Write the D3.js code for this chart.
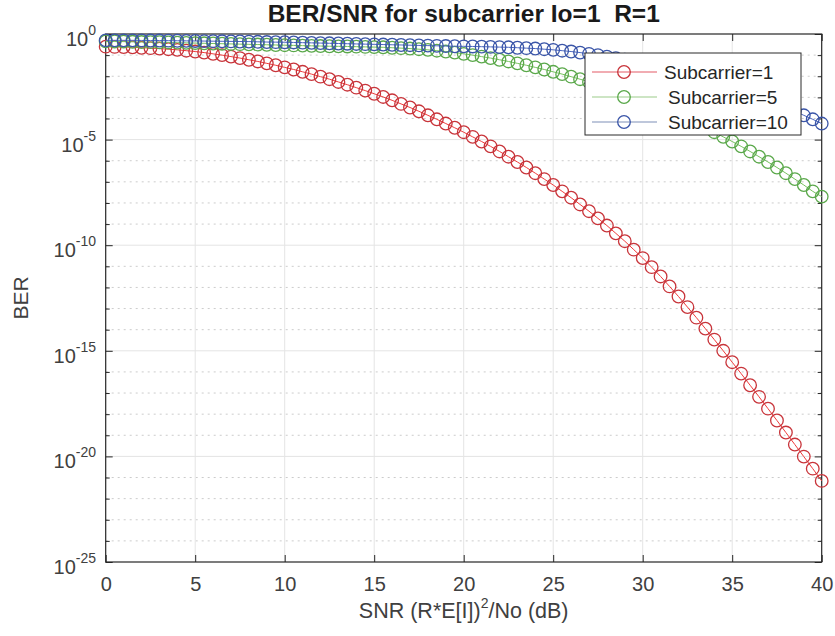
<!DOCTYPE html>
<html><head><meta charset="utf-8">
<script src="https://cdn.jsdelivr.net/npm/d3@7"></script>
<style>
body{margin:0;background:#fff}
svg{display:block}
text{font-family:"Liberation Sans",Arial,Helvetica,sans-serif}
</style>
</head><body>
<svg id="chart" width="835" height="636"></svg>
<script>
// ---------- data ----------
const snrDb = [0,0.5,1,1.5,2,2.5,3,3.5,4,4.5,5,5.5,6,6.5,7,7.5,8,8.5,9,9.5,
  10,10.5,11,11.5,12,12.5,13,13.5,14,14.5,15,15.5,16,16.5,17,17.5,18,18.5,19,19.5,
  20,20.5,21,21.5,22,22.5,23,23.5,24,24.5,25,25.5,26,26.5,27,27.5,28,28.5,29,29.5,
  30,30.5,31,31.5,32,32.5,33,33.5,34,34.5,35,35.5,36,36.5,37,37.5,38,38.5,39,39.5,40];

// log10(BER) per series
const berExpSub1 = [-0.60,-0.61,-0.62,-0.63,-0.65,-0.67,-0.69,-0.72,-0.75,-0.79,
  -0.83,-0.88,-0.94,-1.00,-1.07,-1.14,-1.22,-1.30,-1.39,-1.48,
  -1.58,-1.68,-1.79,-1.90,-2.02,-2.14,-2.27,-2.40,-2.54,-2.68,
  -2.83,-2.98,-3.14,-3.31,-3.48,-3.66,-3.85,-4.04,-4.24,-4.44,
  -4.65,-4.87,-5.09,-5.32,-5.56,-5.81,-6.06,-6.32,-6.59,-6.87,
  -7.15,-7.45,-7.75,-8.07,-8.39,-8.73,-9.07,-9.44,-9.81,-10.21,
  -10.61,-11.04,-11.48,-11.95,-12.43,-12.93,-13.43,-13.95,-14.47,-15.00,
  -15.54,-16.08,-16.63,-17.18,-17.74,-18.30,-18.87,-19.44,-20.01,-20.58,
  -21.16];
const berExpSub5 = [-0.35,-0.355,-0.36,-0.37,-0.38,-0.385,-0.39,-0.40,-0.41,-0.42,
  -0.43,-0.44,-0.45,-0.46,-0.47,-0.48,-0.49,-0.50,-0.51,-0.52,
  -0.53,-0.54,-0.55,-0.56,-0.57,-0.58,-0.585,-0.59,-0.60,-0.61,
  -0.62,-0.63,-0.65,-0.67,-0.69,-0.72,-0.75,-0.79,-0.83,-0.88,
  -0.94,-1.00,-1.07,-1.14,-1.22,-1.30,-1.39,-1.48,-1.58,-1.68,
  -1.79,-1.90,-2.02,-2.14,-2.27,-2.40,-2.54,-2.68,-2.83,-2.98,
  -3.14,-3.31,-3.48,-3.66,-3.85,-4.04,-4.24,-4.44,-4.65,-4.87,
  -5.09,-5.32,-5.56,-5.81,-6.06,-6.32,-6.59,-6.87,-7.15,-7.45,
  -7.70];
const berExpSub10 = [-0.30,-0.30,-0.30,-0.30,-0.305,-0.31,-0.31,-0.315,-0.32,-0.325,
  -0.33,-0.335,-0.34,-0.345,-0.35,-0.355,-0.36,-0.37,-0.38,-0.385,
  -0.39,-0.40,-0.41,-0.42,-0.43,-0.44,-0.45,-0.46,-0.47,-0.48,
  -0.49,-0.50,-0.51,-0.52,-0.53,-0.54,-0.55,-0.56,-0.57,-0.58,
  -0.585,-0.59,-0.60,-0.61,-0.62,-0.63,-0.65,-0.67,-0.69,-0.72,
  -0.75,-0.79,-0.83,-0.88,-0.94,-1.00,-1.07,-1.14,-1.22,-1.30,
  -1.39,-1.48,-1.58,-1.68,-1.79,-1.90,-2.02,-2.14,-2.27,-2.40,
  -2.54,-2.68,-2.83,-2.98,-3.14,-3.31,-3.48,-3.66,-3.85,-4.04,
  -4.24];

const seriesNames = ["Subcarrier=1", "Subcarrier=5", "Subcarrier=10"];
const xTicks = [0,5,10,15,20,25,30,35,40];
const yMajorExp = [0,-5,-10,-15,-20,-25];
const yMinorExp = [-1,-2,-3,-4,-6,-7,-8,-9,-11,-12,-13,-14,-16,-17,-18,-19,-21,-22,-23,-24];
const titleText = "BER/SNR for subcarrier Io=1  R=1";
const xLabelMain = "SNR (R*E[I])";
const xLabelSup = "2";
const xLabelTail = "/No (dB)";
const yLabelText = "BER";

// ---------- layout ----------
const L = 105.7, R = 821.7, T = 34, B = 562;
const svg = d3.select("#chart");
const x = d3.scaleLinear().domain([0, 40]).range([L, R]);
const y = d3.scaleLog().domain([1e-25, 1]).range([B, T]);

const styles = [
  {line: "#f03a3a", mark: "#c8343a"},
  {line: "#76c25e", mark: "#5aa84a"},
  {line: "#4a66c0", mark: "#3a55a8"}
];
const legendLine = ["#e45a66", "#9ccb8a", "#7f8fb8"];
const exps = [berExpSub1, berExpSub5, berExpSub10];
const labelCol = "#404040";

// grid
const grid = svg.append("g");
grid.selectAll("line.mn").data(yMinorExp).join("line")
  .attr("x1", L).attr("x2", R)
  .attr("y1", d => y(Math.pow(10, d))).attr("y2", d => y(Math.pow(10, d)))
  .attr("stroke", "#cccccc").attr("stroke-width", 1).attr("stroke-dasharray", "2,4");
grid.selectAll("line.mj").data(yMajorExp.slice(1, -1)).join("line")
  .attr("x1", L).attr("x2", R)
  .attr("y1", d => y(Math.pow(10, d))).attr("y2", d => y(Math.pow(10, d)))
  .attr("stroke", "#e4e4e4").attr("stroke-width", 1);
grid.selectAll("line.vx").data(xTicks.slice(1, -1)).join("line")
  .attr("x1", d => x(d)).attr("x2", d => x(d))
  .attr("y1", T).attr("y2", B)
  .attr("stroke", "#e4e4e4").attr("stroke-width", 1);

// axes box and ticks
const axisCol = "#262626";
const xb = svg.append("g").attr("transform", `translate(0,${B})`)
  .call(d3.axisBottom(x).tickValues(xTicks).tickSize(-7).tickPadding(15).tickFormat(d3.format("d")));
const xt = svg.append("g").attr("transform", `translate(0,${T})`)
  .call(d3.axisTop(x).tickValues(xTicks).tickSize(-7).tickFormat(""));
const yl = svg.append("g").attr("transform", `translate(${L},0)`)
  .call(d3.axisLeft(y).tickValues(yMajorExp.map(e => Math.pow(10, e))).tickSize(-7).tickFormat(""));
const yr = svg.append("g").attr("transform", `translate(${R},0)`)
  .call(d3.axisRight(y).tickValues(yMajorExp.map(e => Math.pow(10, e))).tickSize(-7).tickFormat(""));
const ylm = svg.append("g").attr("transform", `translate(${L},0)`)
  .call(d3.axisLeft(y).tickValues(yMinorExp.map(e => Math.pow(10, e))).tickSize(-4).tickFormat(""));
const yrm = svg.append("g").attr("transform", `translate(${R},0)`)
  .call(d3.axisRight(y).tickValues(yMinorExp.map(e => Math.pow(10, e))).tickSize(-4).tickFormat(""));
[xb, xt, yl, yr, ylm, yrm].forEach(g => {
  g.select(".domain").remove();
  g.selectAll(".tick line").attr("stroke", axisCol).attr("stroke-width", 1);
});
xb.selectAll(".tick text").attr("font-size", 20).attr("fill", labelCol)
  .attr("font-family", "'Liberation Sans',Arial,sans-serif");
svg.append("rect").attr("x", L).attr("y", T).attr("width", R - L).attr("height", B - T)
  .attr("fill", "none").attr("stroke", axisCol).attr("stroke-width", 1.2);

// y tick labels with superscript exponents
const ylab = svg.append("g").selectAll("text").data(yMajorExp).join("text")
  .attr("x", 96).attr("y", d => y(Math.pow(10, d)) + 12)
  .attr("text-anchor", "end").attr("fill", labelCol).attr("font-size", 20);
ylab.append("tspan").text("10");
ylab.append("tspan").attr("dy", -11).attr("font-size", 14).text(d => String(d));

// series
const lineGen = d3.line().x(d => x(d[0])).y(d => y(Math.pow(10, d[1])));
exps.forEach((arr, i) => {
  const pts = snrDb.map((s, j) => [s, arr[j]]);
  const g = svg.append("g");
  g.append("path").datum(pts).attr("d", lineGen)
    .attr("fill", "none").attr("stroke", styles[i].line).attr("stroke-width", 1);
  g.selectAll("circle").data(pts).join("circle")
    .attr("cx", d => x(d[0])).attr("cy", d => y(Math.pow(10, d[1])))
    .attr("r", 6.3).attr("fill", "none")
    .attr("stroke", styles[i].mark).attr("stroke-width", 1.3);
});

// legend
const lg = svg.append("g");
lg.append("rect").attr("x", 585).attr("y", 53).attr("width", 216).attr("height", 82)
  .attr("fill", "#fff").attr("stroke", "#2a2a2a").attr("stroke-width", 1);
seriesNames.forEach((n, i) => {
  const cy = 72 + i * 25;
  lg.append("line").attr("x1", 592).attr("x2", 657).attr("y1", cy).attr("y2", cy)
    .attr("stroke", legendLine[i]).attr("stroke-width", 1.2);
  lg.append("circle").attr("cx", 624).attr("cy", cy).attr("r", 6.3)
    .attr("fill", "none").attr("stroke", styles[i].mark).attr("stroke-width", 1.3);
  lg.append("text").attr("x", i === 0 ? 664 : 668).attr("y", cy + 7)
    .attr("font-size", 19).attr("fill", "#262626").text(n);
});

// titles
svg.append("text").attr("x", (L + R) / 2).attr("y", 22).attr("text-anchor", "middle")
  .attr("xml:space", "preserve").style("white-space", "pre")
  .attr("font-size", 24.5).attr("font-weight", "bold").attr("fill", "#1a1a1a").text(titleText);
const xl = svg.append("text").attr("x", (L + R) / 2).attr("y", 618).attr("text-anchor", "middle")
  .attr("font-size", 21.5).attr("fill", labelCol);
xl.append("tspan").text(xLabelMain);
xl.append("tspan").attr("dy", -10).attr("font-size", 14).text(xLabelSup);
xl.append("tspan").attr("dy", 10).text(xLabelTail);
svg.append("text").attr("transform", `translate(28,${(T + B) / 2}) rotate(-90)`)
  .attr("text-anchor", "middle").attr("font-size", 21).attr("fill", labelCol).text(yLabelText);
</script>
</body></html>
